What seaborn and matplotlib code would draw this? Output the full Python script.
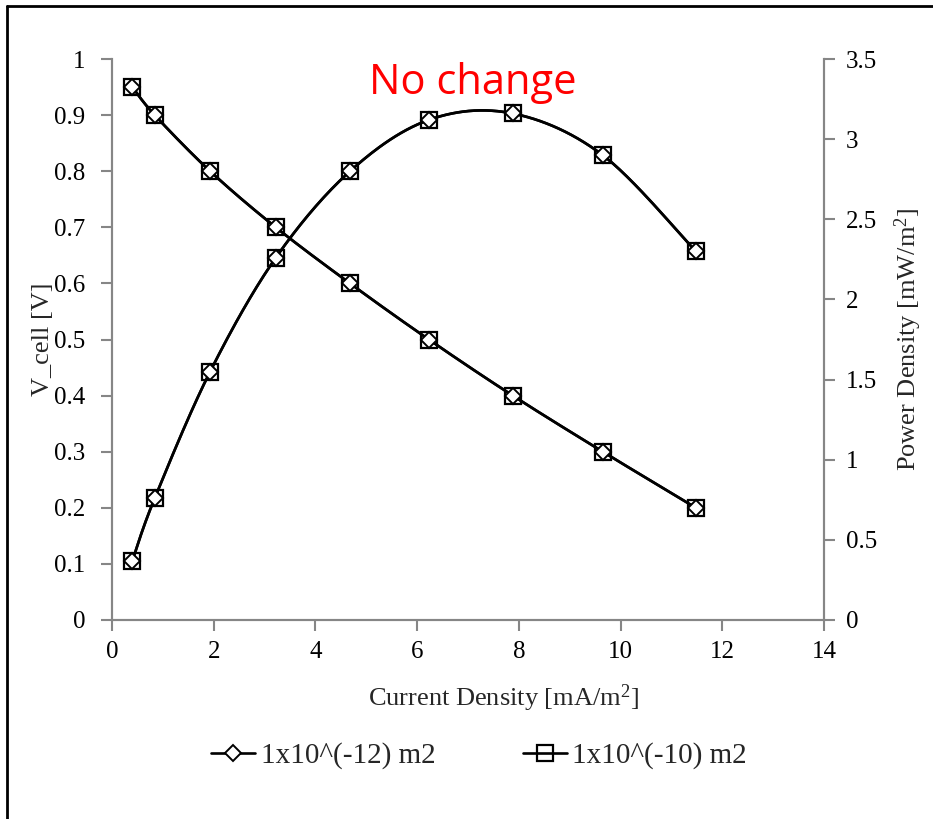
import numpy as np
import pandas as pd
import matplotlib
matplotlib.use("Agg")
import matplotlib.pyplot as plt
from matplotlib.lines import Line2D
import seaborn as sns

# ---- data ----
current_density = [0.40, 0.84, 1.93, 3.22, 4.68, 6.23, 7.88, 9.65, 11.48]
v_cell = [0.95, 0.90, 0.80, 0.70, 0.60, 0.50, 0.40, 0.30, 0.20]
power_density = [0.37, 0.76, 1.55, 2.26, 2.80, 3.12, 3.16, 2.90, 2.30]
series_names = ["1x10^(-12) m2", "1x10^(-10) m2"]
x_ticks = [0, 2, 4, 6, 8, 10, 12, 14]
y_left_ticks = [0, 0.1, 0.2, 0.3, 0.4, 0.5, 0.6, 0.7, 0.8, 0.9, 1.0]
y_right_ticks = [0, 0.5, 1, 1.5, 2, 2.5, 3, 3.5]

sns.set_theme(style="white")
plt.rcParams["font.family"] = ["Liberation Serif", "DejaVu Serif"]
plt.rcParams["mathtext.fontset"] = "custom"
plt.rcParams["mathtext.rm"] = "Liberation Serif"
plt.rcParams["mathtext.it"] = "Liberation Serif:italic"


def smooth(xs, ys, n=30):
    """Excel-like smoothed line (Catmull-Rom Bezier) through the points."""
    P = np.column_stack([xs, ys]).astype(float)
    out = []
    m = len(P)
    for i in range(m - 1):
        p0 = P[i - 1] if i > 0 else P[i]
        p1 = P[i]
        p2 = P[i + 1]
        p3 = P[i + 2] if i + 2 < m else P[i + 1]
        c1 = p1 + (p2 - p0) / 6.0
        c2 = p2 - (p3 - p1) / 6.0
        t = np.linspace(0, 1, n)[:, None]
        seg = ((1 - t) ** 3) * p1 + 3 * ((1 - t) ** 2) * t * c1 + 3 * (1 - t) * t ** 2 * c2 + t ** 3 * p2
        out.append(seg if i == 0 else seg[1:])
    S = np.vstack(out)
    return S[:, 0], S[:, 1]


W, H = 933, 819
fig = plt.figure(figsize=(W / 100, H / 100), dpi=100)
ax = fig.add_axes([112 / W, 1 - 620 / H, (824 - 112) / W, (620 - 59) / H])
ax2 = ax.twinx()

fs_tick = 18
fs_lab = 19
fs_leg = 21
lw = 1.9
markers = [dict(marker="D", ms=8.5, mfc="white", mec="black", mew=1.4),
           dict(marker="s", ms=11, mfc="none", mec="black", mew=1.6)]

for k, name in enumerate(series_names):
    sx, sy = smooth(current_density, v_cell)
    sns.lineplot(x=sx, y=sy, ax=ax, color="black", lw=lw, sort=False, estimator=None, zorder=3)
    px, py = smooth(current_density, power_density)
    sns.lineplot(x=px, y=py, ax=ax2, color="black", lw=lw, sort=False, estimator=None, zorder=3)
    ax.plot(current_density, v_cell, ls="none", zorder=4 + k, **markers[k])
    ax2.plot(current_density, power_density, ls="none", zorder=4 + k, **markers[k])

ax.set_xlim(0, 14)
ax.set_ylim(0, 1)
ax2.set_ylim(0, 3.5)
ax.set_xticks(x_ticks)
ax.set_xticklabels([f"{v:g}" for v in x_ticks])
ax.set_yticks(y_left_ticks)
ax.set_yticklabels([f"{v:g}" for v in y_left_ticks])
ax2.set_yticks(y_right_ticks)
ax2.set_yticklabels([f"{v:g}" for v in y_right_ticks])

spine_col = "#868686"
for a in (ax, ax2):
    for s in a.spines.values():
        s.set_color(spine_col)
        s.set_linewidth(1.5)
    a.spines["top"].set_visible(False)
    a.grid(False)
    a.tick_params(colors="black", labelsize=fs_tick, length=8, width=1.5, direction="out")
    a.tick_params(axis="both", color=spine_col)
ax.tick_params(axis="y", left=True, right=False, pad=11)
ax.tick_params(axis="x", bottom=True, pad=7)
ax2.tick_params(axis="y", right=True, left=False, pad=8)
ax2.spines["right"].set_visible(True)

ax.set_xlabel(r"Current Density [mA/m$^{2}$]", fontsize=fs_lab)
ax.xaxis.set_label_coords((503 - 112) / 712, (620 - 682) / 561)
ax.set_ylabel("V_cell [V]", fontsize=fs_lab)
ax.yaxis.set_label_coords((54 - 112) / 712, 0.5)
ax2.set_ylabel(r"Power Density [mW/m$^{2}$]", fontsize=fs_lab)
ax2.yaxis.set_label_coords((893 - 112) / 712, 0.5)

ax.text(473 / W, 1 - 83 / H, "No change", transform=fig.transFigure, color="red",
        fontsize=30, family=["Open Sans", "DejaVu Sans"], ha="center", va="center")

handles = [Line2D([0], [0], color="black", lw=lw, **markers[k]) for k in range(2)]
fig.legend(handles, series_names, loc="center", bbox_to_anchor=(479 / W, 1 - 756 / H),
           ncol=2, frameon=False, fontsize=fs_leg, handlelength=1.5, handletextpad=0.2,
           columnspacing=3.0)

# chart-area border (left and top edges visible)
fig.add_artist(Line2D([7 / W, 7 / W], [0, 1 - 6 / H], color="black", lw=2, transform=fig.transFigure))
fig.add_artist(Line2D([7 / W, 1], [1 - 6 / H, 1 - 6 / H], color="black", lw=2, transform=fig.transFigure))

fig.savefig("out.png", dpi=100, facecolor="white")
